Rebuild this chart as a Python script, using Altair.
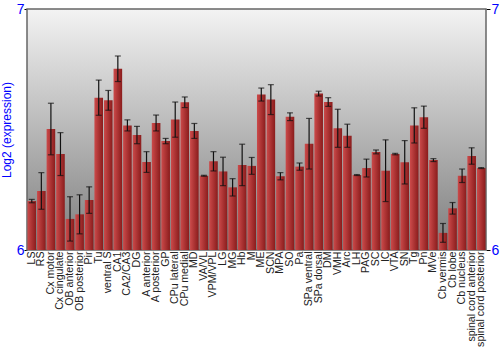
import altair as alt
import pandas as pd

regions = ["LS", "RS", "Cx motor", "Cx cingulate", "OB anterior", "OB posterior", "Pir", "Tu",
           "ventral S", "CA1", "CA2/CA3", "DG", "A anterior", "A posterior", "GP", "CPu lateral",
           "CPu medial", "MD", "VA/VL", "VPM/VPL", "LG", "MG", "Hb", "M", "ME", "SCN", "MPA", "SO",
           "Pa", "SPa ventral", "SPa dorsal", "DM", "VMH", "Arc", "LH", "PAG", "SC", "IC", "VTA",
           "SN", "Tg", "Pn", "MVe", "Cb vermis", "Cb lobe", "Cb nucleus", "spinal cord anterior",
           "spinal cord posterior"]
values = [6.203, 6.245, 6.502, 6.398, 6.129, 6.148, 6.207, 6.632,
          6.621, 6.752, 6.517, 6.477, 6.365, 6.527, 6.452, 6.541,
          6.613, 6.494, 6.308, 6.368, 6.326, 6.260, 6.353, 6.349, 6.645, 6.624, 6.306, 6.553,
          6.346, 6.441, 6.649, 6.614, 6.505, 6.474, 6.311, 6.340, 6.407, 6.329, 6.398,
          6.364, 6.517, 6.551, 6.373, 6.071, 6.173, 6.308, 6.390,
          6.340]
errors = [0.007, 0.076, 0.107, 0.089, 0.092, 0.081, 0.055, 0.073,
          0.041, 0.053, 0.023, 0.036, 0.043, 0.033, 0.011, 0.073,
          0.022, 0.031, 0.002, 0.040, 0.059, 0.036, 0.086, 0.035, 0.027, 0.062, 0.015, 0.016,
          0.015, 0.105, 0.010, 0.018, 0.079, 0.048, 0.002, 0.037, 0.008, 0.128, 0.003,
          0.090, 0.073, 0.046, 0.006, 0.039, 0.024, 0.028, 0.034,
          0.002]
y_ticks = [6, 7]

df = pd.DataFrame({"region": regions, "value": values, "err": errors})
df["lo"] = df["value"] - df["err"]
df["hi"] = df["value"] + df["err"]
df["base"] = 6.0

W, H = 459, 241

xscale = alt.Scale(domain=regions, paddingInner=0.1, paddingOuter=0.05)
yscale = alt.Scale(domain=[6, 7], nice=False, zero=False, clamp=True)

x_enc = alt.X("region:N", sort=regions, scale=xscale,
              axis=alt.Axis(title=None, labelAngle=270, labelAlign="right", labelBaseline="middle",
                            labelFont="Liberation Sans", labelFontSize=10.6, labelColor="#222222",
                            labelPadding=1, ticks=False, domain=False, labelOverlap=False))
x_plain = alt.X("region:N", sort=regions, scale=xscale, axis=None)

base = alt.Chart(df)

background = alt.Chart(pd.DataFrame({"k": [0]})).mark_rect(
    color=alt.Gradient(gradient="linear", x1=0, x2=0, y1=0, y2=1,
                       stops=[alt.GradientStop(offset=0, color="#f3f3f3"),
                              alt.GradientStop(offset=1, color="#7d7d7d")]),
    stroke="#666666", strokeWidth=1.5,
).encode(x=alt.value(0), x2=alt.value(W), y=alt.value(0), y2=alt.value(H))

bars = base.mark_bar(
    color=alt.Gradient(gradient="linear", x1=0, x2=1, y1=0, y2=0,
                       stops=[alt.GradientStop(offset=0, color="#cc4a4a"),
                              alt.GradientStop(offset=1, color="#8a1c1c")])
).encode(
    x=x_enc,
    y=alt.Y("value:Q", scale=yscale,
            axis=alt.Axis(orient="left", title="Log2 (expression)", values=y_ticks, format="d",
                          titleColor="#0000ff", titleFont="Liberation Sans", titleFontSize=12,
                          titleFontWeight="normal", titlePadding=3, labelColor="#0000ff",
                          labelFont="Liberation Sans", labelFontSize=14, tickColor="#000000",
                          tickSize=3, domain=False, grid=False, labelPadding=0)),
    y2="base:Q",
)

rules = base.mark_rule(color="#111111", strokeWidth=1.2).encode(
    x=x_plain,
    y=alt.Y("lo:Q", scale=yscale, axis=None),
    y2="hi:Q",
)

caps_lo = base.mark_tick(color="#111111", size=6, thickness=1.2).encode(
    x=x_plain,
    y=alt.Y("lo:Q", scale=yscale, axis=None),
)
caps_hi = base.mark_tick(color="#111111", size=6, thickness=1.2).encode(
    x=x_plain,
    y=alt.Y("hi:Q", scale=yscale, axis=None),
)

right_axis = base.mark_point(opacity=0).encode(
    y=alt.Y("value:Q", scale=yscale,
            axis=alt.Axis(orient="right", title=None, values=y_ticks, format="d",
                          labelColor="#0000ff", labelFont="Liberation Sans", labelFontSize=14,
                          tickColor="#000000", tickSize=4, domain=False, grid=False,
                          labelPadding=1)),
)

chart = alt.layer(background, bars, rules, caps_lo, caps_hi, right_axis).resolve_scale(
    x="shared", y="shared").resolve_axis(x="independent", y="independent").properties(
    width=W, height=H,
    autosize=alt.AutoSizeParams(type="none"),
    padding={"left": 27, "top": 9, "right": 14, "bottom": 100},
    background="#ffffff",
).configure_view(stroke=None)

chart.save("out.html", embed_options={"renderer": "svg", "actions": False})
